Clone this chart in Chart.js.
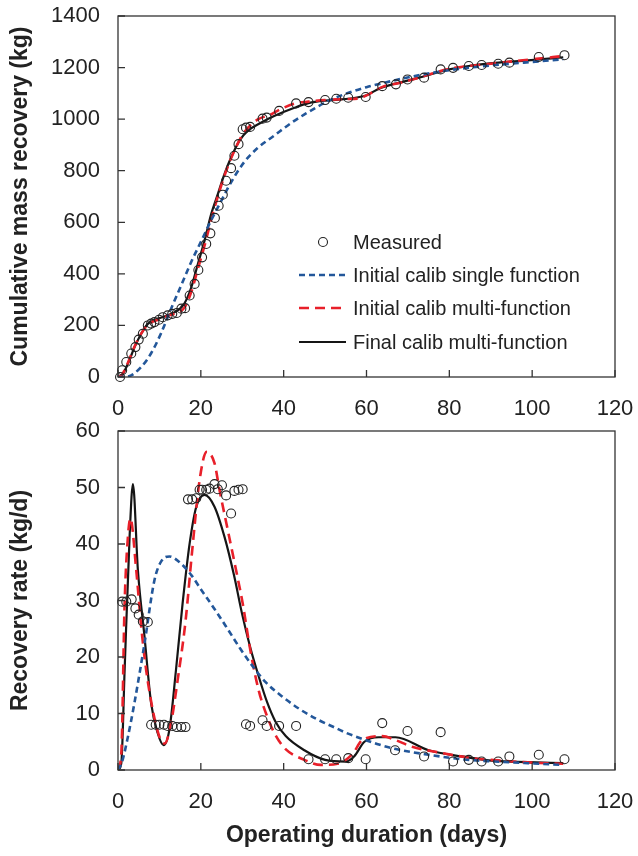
<!DOCTYPE html>
<html>
<head>
<meta charset="utf-8">
<script src="https://cdn.jsdelivr.net/npm/chart.js@4.4.1/dist/chart.umd.min.js"></script>
<style>
body { margin: 0; background: #fff; width: 638px; height: 856px; position: relative; overflow: hidden; }
#massChart { position: absolute; left: 0; top: 0; }
#rateChart { position: absolute; left: 0; top: 420px; }
</style>
</head>
<body>
<canvas id="massChart" width="638" height="420"></canvas>
<canvas id="rateChart" width="638" height="436"></canvas>
<script>
// measured cumulative mass (kg)
const massDays = [0.5, 1.0, 2.0, 3.2, 4.2, 5.0, 6.0, 7.2, 8.0, 8.8, 9.9, 10.8, 12.0, 13.1, 14.2, 15.3, 16.2, 17.3, 18.5, 19.4, 20.3, 21.3, 22.3, 23.4, 24.3, 25.3, 26.1, 27.3, 28.1, 29.1, 30.1, 30.9, 31.9, 34.9, 35.9, 38.9, 43.0, 46.0, 50.0, 52.7, 55.6, 59.8, 63.8, 67.1, 69.9, 73.9, 77.9, 80.9, 84.7, 87.8, 91.8, 94.5, 101.6, 107.8];
const massMeasured = [0, 26, 58, 91, 116, 145, 168, 200, 207, 213, 222, 232, 239, 245, 248, 265, 267, 316, 361, 415, 464, 516, 557, 617, 664, 707, 761, 810, 858, 903, 961, 967, 970, 1002, 1006, 1032, 1061, 1066, 1074, 1079, 1083, 1086, 1128, 1135, 1154, 1161, 1193, 1199, 1206, 1210, 1215, 1219, 1241, 1248];

// measured recovery rate (kg/d)
const rateDays = [1.0, 2.0, 3.3, 4.2, 5.0, 6.0, 7.2, 8.0, 9.1, 10.0, 11.1, 12.0, 13.1, 14.2, 15.3, 16.3, 16.9, 17.9, 18.9, 19.7, 20.3, 21.3, 22.1, 23.3, 24.1, 25.1, 26.1, 27.3, 28.1, 29.1, 30.1, 30.9, 31.9, 34.9, 35.9, 38.9, 43.0, 46.0, 50.0, 52.7, 55.6, 59.8, 63.8, 66.9, 69.9, 73.9, 77.9, 80.9, 84.7, 87.8, 91.8, 94.5, 101.6, 107.8];
const rateMeasured = [29.8, 29.8, 30.2, 28.6, 27.5, 26.3, 26.2, 8.0, 8.0, 8.0, 8.0, 7.8, 7.8, 7.6, 7.6, 7.6, 47.9, 47.9, 48.1, 49.6, 49.6, 49.6, 49.8, 50.6, 49.7, 50.4, 48.6, 45.4, 49.4, 49.6, 49.7, 8.1, 7.8, 8.8, 7.8, 7.8, 7.8, 1.9, 1.9, 1.9, 2.1, 1.9, 8.3, 3.5, 6.9, 2.4, 6.7, 1.5, 1.8, 1.5, 1.5, 2.4, 2.7, 1.9];

// model curves, cumulative mass
const singleMassDays = [0, 2.4, 5.6, 8.0, 10.4, 12.8, 15.3, 17.7, 20.1, 22.5, 24.9, 27.3, 30.5, 33.7, 37.7, 41.8, 45.4, 51, 56, 60, 64, 71, 80, 90, 100, 107.5];
const singleMass = [0, 2, 39, 92, 170, 264, 357, 447, 527, 608, 682, 755, 834, 888, 936, 985, 1022, 1072, 1104, 1124, 1140, 1165, 1190, 1208, 1222, 1232];
const initMultiMassDays = [0, 1, 2.4, 4, 5.6, 7.2, 9.6, 12, 14.4, 16, 17.7, 19.3, 20.9, 22.5, 24.1, 25.7, 27.3, 29.3, 30.5, 33.7, 36.9, 38.9, 43, 46, 50, 55, 58, 60, 64, 68, 72, 80, 90, 100, 107.5];
const initMultiMass = [0, 10, 55, 118, 168, 202, 222, 237, 250, 268, 330, 420, 510, 610, 700, 780, 848, 918, 950, 998, 1018, 1036, 1062, 1068, 1074, 1078, 1080, 1092, 1126, 1140, 1158, 1195, 1215, 1232, 1245];
const finalMassDays = [0, 0.8, 2.4, 4, 5.6, 7.2, 9.6, 12, 14.4, 16, 17.7, 19.3, 20.9, 22.5, 24.1, 25.7, 27.3, 29.3, 31.3, 34.5, 37.7, 42.6, 46, 50, 55, 58, 60, 63, 67, 72, 80, 85, 91, 99, 107.5];
const finalMass = [0, 4, 52, 116, 168, 206, 226, 239, 258, 284, 348, 439, 529, 632, 709, 787, 851, 916, 954, 986, 1012, 1044, 1062, 1072, 1078, 1085, 1093, 1118, 1138, 1158, 1193, 1207, 1218, 1228, 1240];

// model curves, recovery rate
const singleRateDays = [0, 1, 2.4, 4, 6.4, 8.8, 10.5, 12.4, 14.5, 17.7, 20, 23.3, 26, 29.5, 32.9, 35.7, 40, 43.8, 48, 51.8, 55, 59.8, 63, 67.1, 75, 83, 91, 99, 107.5];
const singleRate = [0, 1.5, 5.9, 12, 22.4, 33.6, 37, 37.8, 37, 34.5, 32, 28.5, 25.5, 21.5, 18, 15.5, 12.8, 10.8, 9, 7.7, 6.6, 5.3, 4.5, 3.7, 2.7, 1.9, 1.5, 1.2, 0.9];
const initMultiRateDays = [0, 0.8, 1.6, 2.4, 3.0, 4.4, 5.6, 6.8, 8.4, 10.0, 11.3, 12.8, 14.4, 16.3, 18.0, 19.7, 21.4, 23.3, 24.5, 26.5, 28.5, 30.1, 32, 34, 36, 38, 40.6, 45, 49, 53, 56.6, 59, 63.8, 67, 71, 77.5, 85.5, 93.6, 100, 107.5];
const initMultiRate = [0, 3, 29.5, 41.3, 44.5, 35.4, 25.4, 17.7, 10.6, 5.9, 4.7, 8.3, 15.9, 26.3, 39.5, 51.3, 56.3, 54.3, 49.6, 42.5, 35.4, 29.5, 21, 14, 9.5, 6.2, 3.6, 1.8, 0.9, 1.1, 2.8, 5.3, 6.0, 5.3, 4.1, 3.1, 2.1, 1.6, 1.3, 1.1];
const finalRateDays = [0, 0.8, 1.6, 2.8, 3.6, 4.8, 6.4, 8.0, 9.6, 11.0, 12.4, 14.0, 15.6, 17.3, 18.9, 20.9, 23.3, 25.7, 28, 30, 32, 34, 36, 38, 40.5, 45, 50, 55, 57, 59.5, 63, 67, 75, 83, 91, 99, 107.5];
const finalRate = [0, 1.2, 17.7, 41.3, 50.6, 35.4, 23.6, 11.8, 6.5, 4.4, 7.1, 17.7, 29.5, 40.1, 46.6, 48.7, 46.6, 41.3, 34.5, 27.5, 21.5, 16.5, 12, 8.6, 6, 3.5, 1.8, 1.5, 2.4, 5, 5.8, 5.8, 3.5, 2.4, 1.6, 1.4, 1.2];

const xTicks = [0, 20, 40, 60, 80, 100, 120];
const massTicks = [0, 200, 400, 600, 800, 1000, 1200, 1400];
const rateTicks = [0, 10, 20, 30, 40, 50, 60];

const legendLabels = ["Measured", "Initial calib single function", "Initial calib multi-function", "Final calib multi-function"];

const FONT = "'Liberation Sans', Arial, sans-serif";
const INK = "#222";
const BLUE = "#23579a";
const RED = "#e8202a";
const BLACK = "#151515";

const pts = (xs, ys) => xs.map((x, i) => ({ x: x, y: ys[i] }));

const measuredStyle = {
    showLine: false,
    pointStyle: "circle",
    pointRadius: 4.5,
    pointBorderWidth: 1.1,
    pointBorderColor: INK,
    pointBackgroundColor: "rgba(0,0,0,0)",
    clip: false,
};
const curveStyle = (color, dash, width) => ({
    showLine: true,
    pointRadius: 0,
    borderColor: color,
    borderWidth: width,
    borderDash: dash,
    cubicInterpolationMode: "monotone",
    fill: false,
});

// box round the plot and short inward tick marks
const frameTicks = {
    id: "frameTicks",
    afterDraw(chart) {
        const { ctx, chartArea: a, scales } = chart;
        ctx.save();
        ctx.strokeStyle = "#333";
        ctx.lineWidth = 1.3;
        ctx.strokeRect(a.left, a.top, a.right - a.left, a.bottom - a.top);
        ctx.beginPath();
        scales.x.ticks.forEach((t) => {
            const px = scales.x.getPixelForValue(t.value);
            ctx.moveTo(px, a.bottom);
            ctx.lineTo(px, a.bottom - 7);
        });
        scales.y.ticks.forEach((t) => {
            const py = scales.y.getPixelForValue(t.value);
            ctx.moveTo(a.left, py);
            ctx.lineTo(a.left + 7, py);
        });
        ctx.stroke();
        ctx.restore();
    },
};

const innerLegend = {
    id: "innerLegend",
    afterDraw(chart) {
        const ctx = chart.ctx;
        const sets = chart.data.datasets;
        const rowY = [242, 275, 308, 342];
        ctx.save();
        ctx.font = "20px " + FONT;
        ctx.fillStyle = INK;
        ctx.textBaseline = "middle";
        legendLabels.forEach((label, i) => {
            const y = rowY[i];
            if (i === 0) {
                ctx.beginPath();
                ctx.strokeStyle = INK;
                ctx.lineWidth = 1.1;
                ctx.arc(323, y, 4.5, 0, Math.PI * 2);
                ctx.stroke();
            } else {
                const ds = sets[i];
                ctx.beginPath();
                ctx.strokeStyle = ds.borderColor;
                ctx.lineWidth = ds.borderWidth;
                ctx.setLineDash(ds.borderDash || []);
                ctx.moveTo(299, y);
                ctx.lineTo(346, y);
                ctx.stroke();
                ctx.setLineDash([]);
            }
            ctx.fillText(label, 353, y + 1);
        });
        ctx.restore();
    },
};

const xScale = (withTitle, height) => ({
    type: "linear",
    min: 0,
    max: 120,
    afterBuildTicks: (s) => { s.ticks = xTicks.map((v) => ({ value: v })); },
    afterFit: (s) => {
        s.height = height;
        s.paddingLeft = 0;
        s.paddingRight = 0;
    },
    grid: { display: false, drawTicks: false },
    border: { display: false },
    ticks: { color: INK, padding: 19, font: { family: FONT, size: 22 }, callback: (v) => String(v) },
    title: {
        display: withTitle,
        text: "Operating duration (days)",
        color: INK,
        font: { family: FONT, size: 23, weight: "bold" },
        padding: { top: 0, bottom: 7 },
    },
});
const yScale = (max, ticks, title) => ({
    type: "linear",
    min: 0,
    max: max,
    afterBuildTicks: (s) => { s.ticks = ticks.map((v) => ({ value: v })); },
    afterFit: (s) => {
        s.width = 118;
        s.paddingTop = 0;
        s.paddingBottom = 0;
    },
    grid: { display: false, drawTicks: false },
    border: { display: false },
    ticks: { color: INK, padding: 18, font: { family: FONT, size: 22 }, callback: (v) => String(v) },
    title: {
        display: true,
        text: title,
        color: INK,
        font: { family: FONT, size: 23, weight: "bold" },
        padding: { top: 7, bottom: 0 },
    },
});

const common = {
    responsive: false,
    animation: false,
    events: [],
    plugins: { legend: { display: false }, tooltip: { enabled: false } },
};

new Chart(document.getElementById("massChart").getContext("2d"), {
    type: "scatter",
    data: {
        datasets: [
            { label: legendLabels[0], data: pts(massDays, massMeasured), ...measuredStyle },
            { label: legendLabels[1], data: pts(singleMassDays, singleMass), ...curveStyle(BLUE, [6, 4], 2.6) },
            { label: legendLabels[2], data: pts(initMultiMassDays, initMultiMass), ...curveStyle(RED, [10, 6], 2.6) },
            { label: legendLabels[3], data: pts(finalMassDays, finalMass), ...curveStyle(BLACK, [], 2.2) },
        ],
    },
    options: {
        ...common,
        layout: { padding: { top: 16, right: 23, left: 0, bottom: 0 } },
        scales: {
            x: xScale(false, 43),
            y: yScale(1400, massTicks, "Cumulative mass recovery (kg)"),
        },
    },
    plugins: [frameTicks, innerLegend],
});

new Chart(document.getElementById("rateChart").getContext("2d"), {
    type: "scatter",
    data: {
        datasets: [
            { label: legendLabels[0], data: pts(rateDays, rateMeasured), ...measuredStyle },
            { label: legendLabels[1], data: pts(singleRateDays, singleRate), ...curveStyle(BLUE, [6, 4], 2.6) },
            { label: legendLabels[2], data: pts(initMultiRateDays, initMultiRate), ...curveStyle(RED, [10, 6], 2.6) },
            { label: legendLabels[3], data: pts(finalRateDays, finalRate), ...curveStyle(BLACK, [], 2.2) },
        ],
    },
    options: {
        ...common,
        layout: { padding: { top: 11, right: 23, left: 0, bottom: 0 } },
        scales: {
            x: xScale(true, 86),
            y: yScale(60, rateTicks, "Recovery rate (kg/d)"),
        },
    },
    plugins: [frameTicks],
});
</script>
</body>
</html>
